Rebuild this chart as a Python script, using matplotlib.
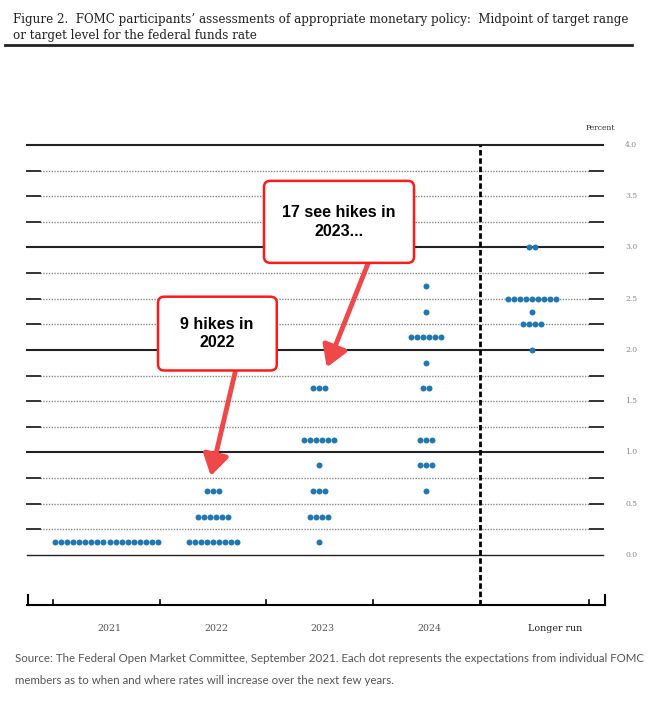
import numpy as np
import matplotlib.pyplot as plt
from matplotlib.patches import FancyBboxPatch
from matplotlib.lines import Line2D

# DATA (Sept 2021 FOMC dot plot, midpoint of target range, percent)

columns = ['2021', '2022', '2023', '2024', 'Longer run']

rates_2021 = [0.125]
counts_2021 = [18]

rates_2022 = [0.125, 0.375, 0.625]
counts_2022 = [9, 6, 3]

rates_2023 = [0.125, 0.375, 0.625, 0.875, 1.125, 1.625]
counts_2023 = [1, 4, 3, 1, 6, 3]

rates_2024 = [0.625, 0.875, 1.125, 1.625, 1.875, 2.125, 2.375, 2.625]
counts_2024 = [1, 3, 3, 2, 1, 6, 1, 1]

rates_lr = [2.0, 2.25, 2.375, 2.5, 3.0]
counts_lr = [1, 4, 1, 9, 2]

all_rates = [rates_2021, rates_2022, rates_2023, rates_2024, rates_lr]
all_counts = [counts_2021, counts_2022, counts_2023, counts_2024, counts_lr]

grid_levels = np.arange(0, 4.01, 0.25)
label_levels = np.arange(0, 4.01, 0.5)

# FIGURE

W, H = 660, 702
fig = plt.figure(figsize=(W / 100, H / 100), dpi=100)

ax = fig.add_axes([27 / W, 1 - 605 / H, 579 / W, 460 / H])
x_lo, x_hi = 0.2528, 5.694
y_lo, y_hi = -0.488, 4.0
ax.set_xlim(x_lo, x_hi)
ax.set_ylim(y_lo, y_hi)
ax.axis('off')

line_end = 5.666
dash_l, dash_r = 0.375, 5.544

# GRID LINES

for lv in grid_levels:
    if abs(lv - round(lv)) < 1e-9:
        lw = 1.0 if lv == 0 else 1.5
        ax.plot([x_lo, line_end], [lv, lv], color='#222', lw=lw, clip_on=False, zorder=1)
    else:
        ax.plot([dash_l, dash_r], [lv, lv], color='#888', lw=1.0,
                ls=(0, (1, 1)), clip_on=False, zorder=1)
        ax.plot([x_lo, dash_l], [lv, lv], color='#333', lw=1.4, clip_on=False, zorder=1)
        ax.plot([dash_r, line_end], [lv, lv], color='#333', lw=1.4, clip_on=False, zorder=1)

# DOTS

dx = 0.057
for i, (rates, counts) in enumerate(zip(all_rates, all_counts)):
    center = i + 1
    for r, n in zip(rates, counts):
        xs = center + (np.arange(n) - (n - 1) / 2) * dx
        ax.plot(xs, [r] * n, 'o', ms=4.3, color='#1f77b4', mec='none',
                clip_on=False, zorder=3)

# LONGER RUN SEPARATOR

ax.plot([4.51, 4.51], [y_lo, y_hi], color='black', lw=2, ls=(0, (2, 1)),
        clip_on=False, zorder=2)

# BOTTOM AXIS

ax.plot([x_lo, 5.685], [y_lo, y_lo], color='black', lw=1.5, clip_on=False)
for t in [0.5, 1.5, 2.5, 3.5, 5.535]:
    ax.plot([t, t], [y_lo, y_lo + 0.05], color='black', lw=1.2, clip_on=False)
for t in [x_lo + 0.005, 5.685]:
    ax.plot([t, t], [y_lo, y_lo + 0.1], color='black', lw=1.5, clip_on=False)

label_x = [1.03, 2.03, 3.03, 4.03, 5.215]
for lx, name in zip(label_x, columns):
    ax.text(lx, -0.72, name, ha='center', va='center', fontsize=6.8,
            family='DejaVu Serif', color='#222' if name == 'Longer run' else '#555')

for v in label_levels:
    ax.text(5.93, v, f'{v:.1f}', ha='center', va='center', fontsize=5.5,
            family='DejaVu Serif', color='#888')
ax.text(5.64, 4.17, 'Percent', ha='center', va='center', fontsize=5.5,
        family='DejaVu Serif', color='#333')

# ANNOTATIONS

box_red = '#ff1a1a'
arrow_red = '#f04848'

ax.annotate('', xy=(3.07, 1.83), xytext=(3.46, 2.85),
            arrowprops=dict(arrowstyle='-|>,head_length=0.9,head_width=0.55',
                            color=arrow_red, lw=3.5, shrinkA=0, shrinkB=0,
                            mutation_scale=14), zorder=4)
ax.annotate('', xy=(1.98, 0.77), xytext=(2.21, 1.79),
            arrowprops=dict(arrowstyle='-|>,head_length=0.9,head_width=0.55',
                            color=arrow_red, lw=3.5, shrinkA=0, shrinkB=0,
                            mutation_scale=14), zorder=4)

box1 = FancyBboxPatch((2.48, 2.85), 1.41, 0.80, boxstyle='round,pad=0,rounding_size=0.06',
                      ec=box_red, fc='white', lw=1.8, zorder=5, clip_on=False)
ax.add_patch(box1)
ax.text(3.185, 3.25, '17 see hikes in\n2023...', ha='center', va='center',
        fontsize=11.5, fontweight='bold', family='Liberation Sans',
        linespacing=1.3, zorder=6)

box2 = FancyBboxPatch((1.484, 1.80), 1.116, 0.72, boxstyle='round,pad=0,rounding_size=0.06',
                      ec=box_red, fc='white', lw=1.8, zorder=5, clip_on=False)
ax.add_patch(box2)
ax.text(2.04, 2.16, '9 hikes in\n2022', ha='center', va='center',
        fontsize=11.5, fontweight='bold', family='Liberation Sans',
        linespacing=1.3, zorder=6)

# TITLE

fig.text(13 / W, 1 - 20 / H,
         "Figure 2.  FOMC participants\u2019 assessments of appropriate monetary policy:  "
         "Midpoint of target range",
         ha='left', va='center', fontsize=8.6, family='DejaVu Serif', color='#222')
fig.text(13 / W, 1 - 36 / H, 'or target level for the federal funds rate',
         ha='left', va='center', fontsize=8.6, family='DejaVu Serif', color='#222')
fig.add_artist(Line2D([5 / W, 632 / W], [1 - 45 / H, 1 - 45 / H], lw=2, color='#222'))

# SOURCE

fig.text(15 / W, 1 - 658 / H,
         'Source: The Federal Open Market Committee, September 2021. Each dot represents '
         'the expectations from individual FOMC',
         ha='left', va='center', fontsize=8.3, family='Lato', color='#555')
fig.text(15 / W, 1 - 680 / H,
         'members as to when and where rates will increase over the next few years.',
         ha='left', va='center', fontsize=8.3, family='Lato', color='#555')

fig.savefig('out.png', dpi=100)
